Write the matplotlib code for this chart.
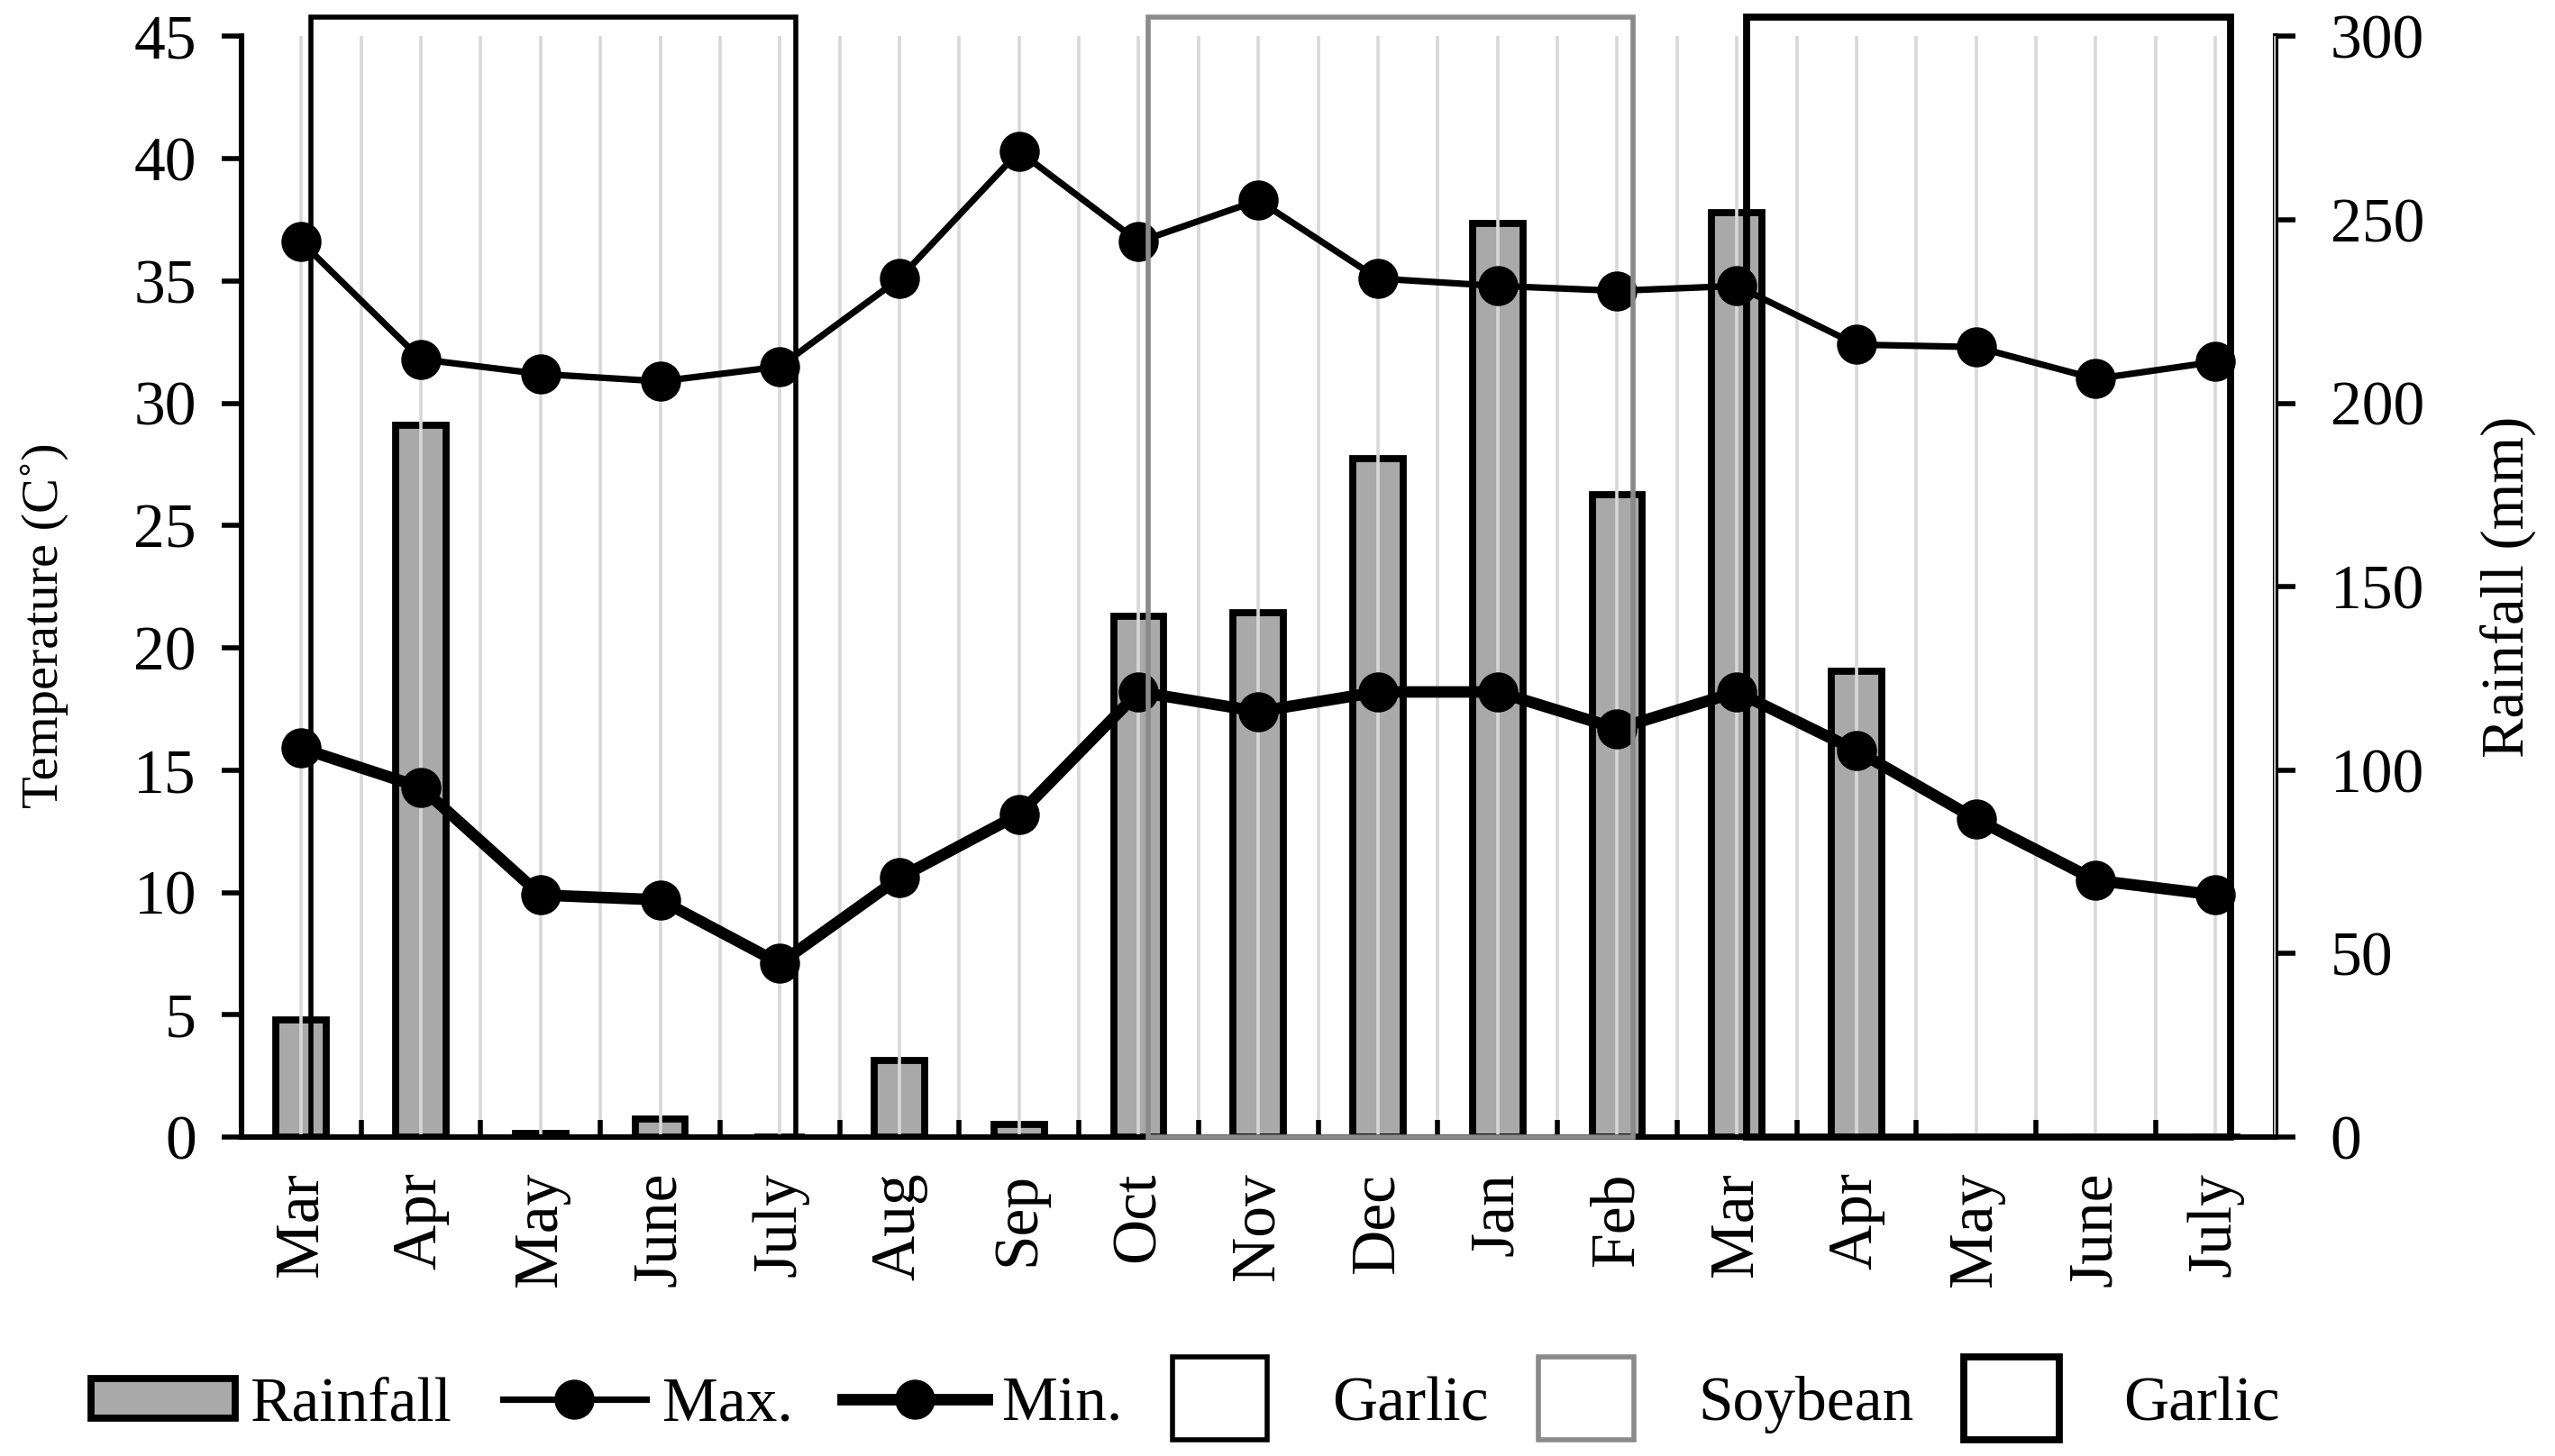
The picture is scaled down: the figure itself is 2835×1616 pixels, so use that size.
import matplotlib
matplotlib.use("Agg")
import matplotlib.pyplot as plt
from matplotlib.patches import Rectangle, Patch
from matplotlib.lines import Line2D
from matplotlib.legend_handler import HandlerPatch

plt.rcParams['font.family'] = ['Liberation Serif', 'DejaVu Serif']

# data
months = ['Mar', 'Apr', 'May', 'June', 'July', 'Aug', 'Sep', 'Oct', 'Nov',
          'Dec', 'Jan', 'Feb', 'Mar', 'Apr', 'May', 'June', 'July']
rainfall = [32, 194, 1, 5, 0, 21, 3.5, 142, 143, 185, 249, 175, 252, 127, 0, 0, 0]
t_max = [36.6, 31.8, 31.2, 30.9, 31.5, 35.1, 40.3, 36.6, 38.3, 35.1, 34.8,
         34.6, 34.8, 32.4, 32.3, 31.0, 31.7]
t_min = [15.9, 14.3, 9.9, 9.7, 7.1, 10.6, 13.2, 18.2, 17.4, 18.2, 18.2,
         16.7, 18.2, 15.8, 13.0, 10.5, 9.9]

# crop seasons: (label, first month index, last month index)
seasons = [('Garlic', 0, 4), ('Soybean', 7, 11), ('Garlic', 12, 16)]
season_edge = ['black', '#8a8a8a', 'black']
season_lw = [2.0, 2.0, 2.8]

x = list(range(len(months)))

fig = plt.figure(figsize=(14.175, 8.08), dpi=200)
ax = fig.add_axes([0.0945, 0.219, 0.796, 0.756])
ax2 = ax.twinx()

# light vertical grid at every half month
for k in range(2 * len(months) + 1):
    ax.axvline(-0.5 + k * 0.5, color='#d8d8d8', lw=1.3, zorder=0)

ax2.bar(x, rainfall, width=0.42, color='#a9a9a9', edgecolor='black',
        linewidth=2.8, zorder=2)

ax.plot(x, t_max, color='black', lw=2.6, marker='o', markersize=15, zorder=4)
ax.plot(x, t_min, color='black', lw=4.6, marker='o', markersize=15, zorder=4)

for (name, i0, i1), ec, lw in zip(seasons, season_edge, season_lw):
    ax.add_patch(Rectangle((i0 + 0.08, 0), i1 - i0 + 0.05, 45.8, fill=False,
                           edgecolor=ec, lw=lw, clip_on=False, zorder=5))

ax.set_zorder(ax2.get_zorder() + 1)
ax.patch.set_visible(False)

ax.set_xlim(-0.5, len(months) - 0.5)
ax.set_ylim(0, 45)
ax2.set_ylim(0, 300)
ax.set_yticks(range(0, 46, 5))
ax2.set_yticks(range(0, 301, 50))

ax.set_xticks(x)
ax.set_xticklabels(months, rotation=90, fontsize=25)
ax.set_xticks([i + 0.5 for i in x[:-1]], minor=True)
ax.tick_params(axis='x', which='major', length=0, pad=14)
ax.tick_params(axis='x', which='minor', direction='in', length=7, width=2)
ax.tick_params(axis='y', labelsize=25, length=8, width=2, pad=10)
ax2.tick_params(axis='y', labelsize=25, length=8, width=2, pad=14)

for a in (ax, ax2):
    for s in a.spines.values():
        s.set_visible(False)
ax.spines['left'].set_visible(True)
ax.spines['bottom'].set_visible(True)
ax2.spines['right'].set_visible(True)
for s in (ax.spines['left'], ax.spines['bottom'], ax2.spines['right']):
    s.set_linewidth(2.2)

ax.set_ylabel('Temperature (C˚)', fontsize=21)
ax.yaxis.set_label_coords(-0.085, 0.465)
ax2.set_ylabel('Rainfall (mm)', fontsize=24, labelpad=22)


def tall_box(legend, orig_handle, xdescent, ydescent, width, height, fontsize):
    return Rectangle((-xdescent, -ydescent - 0.55 * height), width * 0.66,
                     height * 2.1)


def flat_bar(legend, orig_handle, xdescent, ydescent, width, height, fontsize):
    return Rectangle((-xdescent, -ydescent), width, height)


handles = [Patch(facecolor='#a9a9a9', edgecolor='black', lw=2.8),
           Line2D([], [], color='black', lw=2.6, marker='o', markersize=15),
           Line2D([], [], color='black', lw=4.6, marker='o', markersize=15)]
labels = ['Rainfall', 'Max.', 'Min.']
hmap = {handles[0]: HandlerPatch(patch_func=flat_bar)}
for (name, i0, i1), ec, lw in zip(seasons, season_edge, season_lw):
    h = Patch(facecolor='white', edgecolor=ec, lw=lw)
    handles.append(h)
    labels.append(name)
    hmap[h] = HandlerPatch(patch_func=tall_box)

fig.legend(handles, labels, handler_map=hmap, loc='center',
           bbox_to_anchor=(0.464, 0.035), ncol=6, frameon=False, fontsize=25,
           handlelength=2.3, handleheight=0.6, handletextpad=0.25,
           columnspacing=0.8)

fig.savefig('out.png', dpi=200)
